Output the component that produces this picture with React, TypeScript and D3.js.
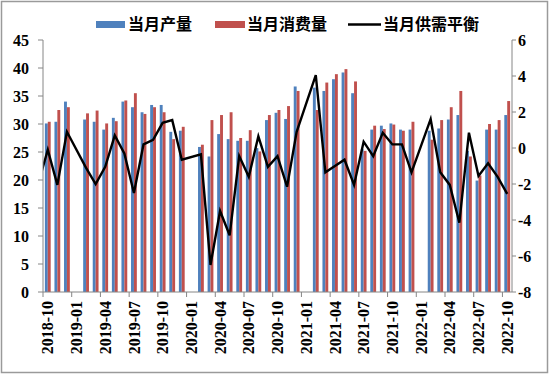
import React from "react";
import * as d3 from "d3";

const months = [
  "2018-10", "2018-11", "2018-12",
  "2019-01", "2019-02", "2019-03", "2019-04", "2019-05", "2019-06",
  "2019-07", "2019-08", "2019-09", "2019-10", "2019-11", "2019-12",
  "2020-01", "2020-02", "2020-03", "2020-04", "2020-05", "2020-06",
  "2020-07", "2020-08", "2020-09", "2020-10", "2020-11", "2020-12",
  "2021-01", "2021-02", "2021-03", "2021-04", "2021-05", "2021-06",
  "2021-07", "2021-08", "2021-09", "2021-10", "2021-11", "2021-12",
  "2022-01", "2022-02", "2022-03", "2022-04", "2022-05", "2022-06",
  "2022-07", "2022-08", "2022-09", "2022-10",
];

// 当月产量
const production = [
  30.1, 30.4, 34.0,
  null, 30.8, 30.4, 29.0, 31.1, 34.0, 33.0, 32.1, 33.4, 33.4, 28.6, 28.8,
  null, 25.9, 24.2, 28.2, 27.3, 27.0, 27.0, 25.7, 30.7, 32.0, 30.9, 36.7,
  null, 36.5, 35.9, 38.0, 39.2, 35.5, 25.5, 29.0, 29.7, 30.1, 29.0, 29.0,
  null, 28.8, 29.2, 30.8, 31.6, 25.2, 19.9, 29.0, 29.0, 31.6,
];

// 当月消费量
const consumption = [
  30.4, 32.5, 33.0,
  null, 31.9, 32.4, 30.1, 30.5, 34.2, 35.5, 31.8, 33.0, 32.1, 27.3, 29.5,
  null, 26.3, 30.7, 31.6, 32.1, 27.5, 28.9, 25.1, 31.6, 32.5, 33.2, 35.9,
  null, 32.5, 37.4, 38.9, 39.8, 37.6, 25.2, 29.7, 29.1, 29.9, 28.8, 30.4,
  null, 27.2, 30.7, 33.0, 35.9, 24.2, 20.8, 30.0, 30.7, 34.1,
];

// 当月供需平衡 (right axis)
const balance = [
  -0.1, -2.05, 0.9,
  null, -1.1, -2.0, -1.05, 0.7, -0.3, -2.5, 0.2, 0.45, 1.4, 1.55, -0.65,
  null, -0.35, -6.5, -3.5, -4.85, -0.45, -1.6, 0.65, -1.05, -0.45, -2.15, 0.9,
  null, 4.05, -1.35, -1.0, -0.65, -2.05, 0.35, -0.45, 0.85, 0.2, 0.2, -1.35,
  null, 1.6, -1.35, -2.05, -4.15, 0.85, -1.55, -0.85, -1.6, -2.55,
];
// 2018-09, only its segment up to the axis shows
const balanceBefore = -2.0;

const leftTicks = [0, 5, 10, 15, 20, 25, 30, 35, 40, 45];
const rightTicks = [-8, -6, -4, -2, 0, 2, 4, 6];

const BLUE = "#4f81bd";
const RED = "#c0504d";
const AXIS = "#868686";
const NUM_FONT = "'Liberation Serif', 'Times New Roman', serif";
const CJK_FONT = "'Noto Sans CJK SC', sans-serif";

export default function App() {
  const left = 43, right = 512, top = 40, bottom = 292;

  const x = d3.scaleBand<string>().domain(months).range([left, right]);
  const bw = x.bandwidth();
  const cx = (i: number) => (x(months[i]) as number) + bw / 2;
  const yL = d3.scaleLinear().domain([0, 45]).range([bottom, top]);
  const yR = d3.scaleLinear().domain([-8, 6]).range([bottom, top]);
  const barW = 2.9;

  const linePts: [number, number][] = [[cx(0) - bw, yR(balanceBefore)]];
  balance.forEach((v, i) => {
    if (v != null) linePts.push([cx(i), yR(v)]);
  });
  const linePath = d3.line()(linePts) as string;

  const tickIdx = d3.range(0, months.length, 3);

  return (
    <svg width={550} height={375} style={{ position: "absolute", left: 0, top: 0 }}>
      <rect x={0} y={0} width={550} height={375} fill="#fff" />
      <rect x={1.5} y={1.5} width={546} height={371} fill="none" stroke="#9a9a9a" strokeWidth={1.5} />

      <defs>
        <clipPath id="plot">
          <rect x={left} y={top - 10} width={right - left} height={bottom - top + 20} />
        </clipPath>
      </defs>

      {/* bars */}
      {production.map((v, i) =>
        v == null ? null : (
          <rect key={"p" + i} x={cx(i) - barW} y={yL(v)} width={barW} height={yL(0) - yL(v)} fill={BLUE} />
        )
      )}
      {consumption.map((v, i) =>
        v == null ? null : (
          <rect key={"c" + i} x={cx(i)} y={yL(v)} width={barW} height={yL(0) - yL(v)} fill={RED} />
        )
      )}

      {/* balance line */}
      <path d={linePath} fill="none" stroke="#000" strokeWidth={2.4} strokeLinejoin="miter" clipPath="url(#plot)" />

      {/* left axis */}
      <line x1={left} x2={left} y1={top} y2={bottom} stroke={AXIS} />
      {leftTicks.map((t) => (
        <g key={"l" + t}>
          <line x1={left - 5} x2={left} y1={yL(t)} y2={yL(t)} stroke={AXIS} />
          <text x={29} y={yL(t)} dy="0.35em" textAnchor="end" fontFamily={NUM_FONT} fontWeight="bold" fontSize={16}>
            {t}
          </text>
        </g>
      ))}

      {/* right axis */}
      <line x1={right} x2={right} y1={top} y2={bottom} stroke={AXIS} />
      {rightTicks.map((t) => (
        <g key={"r" + t}>
          <line x1={right} x2={right + 4} y1={yR(t)} y2={yR(t)} stroke={AXIS} />
          <text x={518} y={yR(t)} dy="0.35em" textAnchor="start" fontFamily={NUM_FONT} fontWeight="bold" fontSize={16}>
            {t}
          </text>
        </g>
      ))}

      {/* x axis */}
      <line x1={left} x2={right} y1={bottom} y2={bottom} stroke={AXIS} />
      {tickIdx.map((i) => (
        <line key={"t" + i} x1={x(months[i])} x2={x(months[i])} y1={bottom} y2={bottom + 5} stroke={AXIS} />
      ))}
      {tickIdx.map((i) => (
        <text
          key={"x" + i}
          transform={`translate(${cx(i)},${bottom + 9}) rotate(-90)`}
          dy="0.35em"
          textAnchor="end"
          fontFamily={NUM_FONT}
          fontWeight="bold"
          fontSize={16}
        >
          {months[i]}
        </text>
      ))}

      {/* legend */}
      <rect x={96} y={21} width={29} height={7} fill={BLUE} />
      <text x={128} y={24.5} dy="0.35em" fontFamily={CJK_FONT} fontWeight="bold" fontSize={16}>当月产量</text>
      <rect x={215} y={21} width={30} height={7} fill={RED} />
      <text x={247} y={24.5} dy="0.35em" fontFamily={CJK_FONT} fontWeight="bold" fontSize={16}>当月消费量</text>
      <line x1={348} x2={381} y1={24.5} y2={24.5} stroke="#000" strokeWidth={2.4} />
      <text x={383} y={24.5} dy="0.35em" fontFamily={CJK_FONT} fontWeight="bold" fontSize={16}>当月供需平衡</text>
    </svg>
  );
}
